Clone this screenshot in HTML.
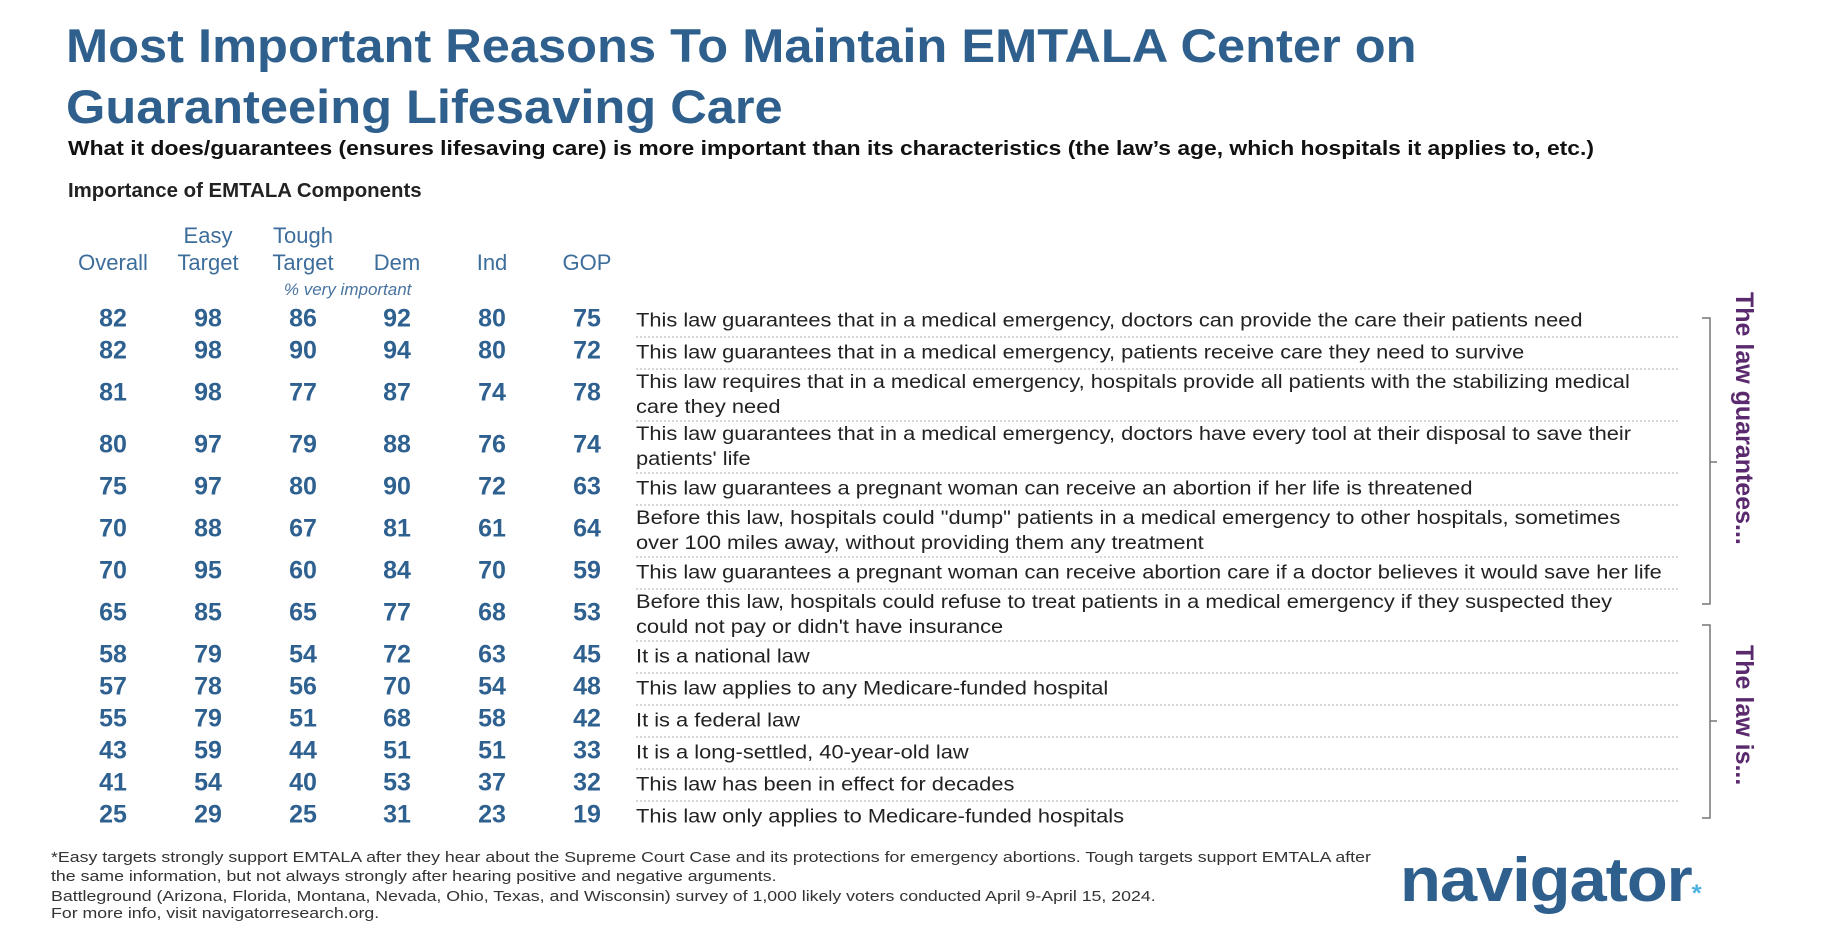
<!DOCTYPE html>
<html><head><meta charset="utf-8"><style>
body{margin:0;width:1824px;height:950px;background:#fff;position:relative;overflow:hidden;font-family:"Liberation Sans",sans-serif}
.a{position:absolute;white-space:nowrap}
.title{left:66px;font-size:47px;font-weight:bold;color:#2e5f8d;transform-origin:0 0;transform:scaleX(1.076)}
.hdr{font-size:22px;color:#3d6d9b;transform:translateX(-50%);text-align:center;line-height:27px}
.num{font-size:25px;font-weight:bold;color:#2e6090;transform:translate(-50%,-50%)}
.lbl{font-size:19.5px;color:#222;line-height:25px;transform-origin:0 50%;transform:translateY(-50%) scaleX(1.12)}
.dot{position:absolute;left:636px;width:1042px;border-top:2px dotted #d6d6d6;height:0}
.foot{left:51px;font-size:14.5px;color:#333;transform-origin:0 0;transform:scaleX(1.223)}
</style></head><body>
<div class="a title" style="top:18px">Most Important Reasons To Maintain EMTALA Center on</div>
<div class="a title" style="top:79px">Guaranteeing Lifesaving Care</div>
<div class="a" style="left:68px;top:137px;font-size:20.5px;font-weight:bold;color:#111;transform-origin:0 0;transform:scaleX(1.115)">What it does/guarantees (ensures lifesaving care) is more important than its characteristics (the law’s age, which hospitals it applies to, etc.)</div>
<div class="a" style="left:68px;top:180px;font-size:20px;font-weight:bold;color:#222;transform-origin:0 0;transform:scaleX(1.02)">Importance of EMTALA Components</div>
<div class="a" style="left:303px;top:280px;font-size:17px;font-style:italic;color:#4a74a0;transform:translateX(-15%)">% very important</div>
<div id="tbl"></div>
<svg class="a" style="left:0;top:0" width="1824" height="950">
<path d="M1702 318 H1710 V604 H1702 M1710 462 H1717" stroke="#777" stroke-width="1.5" fill="none"/>
<path d="M1702 625 H1710 V818 H1702 M1710 721 H1717" stroke="#777" stroke-width="1.5" fill="none"/>
<text transform="translate(1736,292) rotate(90)" font-family="Liberation Sans" font-size="25" font-weight="bold" fill="#5b2a6e">The law guarantees...</text>
<text transform="translate(1736,645) rotate(90)" font-family="Liberation Sans" font-size="25" font-weight="bold" fill="#5b2a6e">The law is...</text>
</svg>
<div class="a foot" style="top:850px">*Easy targets strongly support EMTALA after they hear about the Supreme Court Case and its protections for emergency abortions. Tough targets support EMTALA after</div>
<div class="a foot" style="top:869px">the same information, but not always strongly after hearing positive and negative arguments.</div>
<div class="a foot" style="top:889px">Battleground (Arizona, Florida, Montana, Nevada, Ohio, Texas, and Wisconsin) survey of 1,000 likely voters conducted April 9-April 15, 2024.</div>
<div class="a foot" style="top:906px">For more info, visit navigatorresearch.org.</div>
<div class="a" style="left:1400px;top:845px;font-size:62px;font-weight:bold;color:#2e5f8d;letter-spacing:-1px;transform-origin:0 0;transform:scaleX(1.08)">navigator<span style="color:#4fb3e0;font-size:24px">*</span></div>
<script>
const columns=["Overall","Easy Target","Tough Target","Dem","Ind","GOP"];
const overall=[82,82,81,80,75,70,70,65,58,57,55,43,41,25];
const easy=[98,98,98,97,97,88,95,85,79,78,79,59,54,29];
const tough=[86,90,77,79,80,67,60,65,54,56,51,44,40,25];
const dem=[92,94,87,88,90,81,84,77,72,70,68,51,53,31];
const ind=[80,80,74,76,72,61,70,68,63,54,58,51,37,23];
const gop=[75,72,78,74,63,64,59,53,45,48,42,33,32,19];
const labels=[
"This law guarantees that in a medical emergency, doctors can provide the care their patients need",
"This law guarantees that in a medical emergency, patients receive care they need to survive",
"This law requires that in a medical emergency, hospitals provide all patients with the stabilizing medical<br>care they need",
"This law guarantees that in a medical emergency, doctors have every tool at their disposal to save their<br>patients' life",
"This law guarantees a pregnant woman can receive an abortion if her life is threatened",
"Before this law, hospitals could \"dump\" patients in a medical emergency to other hospitals, sometimes<br>over 100 miles away, without providing them any treatment",
"This law guarantees a pregnant woman can receive abortion care if a doctor believes it would save her life",
"Before this law, hospitals could refuse to treat patients in a medical emergency if they suspected they<br>could not pay or didn't have insurance",
"It is a national law",
"This law applies to any Medicare-funded hospital",
"It is a federal law",
"It is a long-settled, 40-year-old law",
"This law has been in effect for decades",
"This law only applies to Medicare-funded hospitals"];
const series=[overall,easy,tough,dem,ind,gop];
const colX=[113,208,303,397,492,587];
const tbl=document.getElementById('tbl');
columns.forEach((c,i)=>{
  const d=document.createElement('div');
  d.className='a hdr';
  
  
  const parts=c.split(' ');
  d.innerHTML=parts.length>1?parts.join('<br>'):c;
  d.style.left=colX[i]+'px';
  d.style.top=(parts.length>1?222:249)+'px';
  tbl.appendChild(d);
});
let y=319;
labels.forEach((t,r)=>{
  const two=t.includes('<br>');
  series.forEach((s,i)=>{
    const n=document.createElement('div');
    n.className='a num';
    
    
    n.textContent=s[r];
    n.style.left=colX[i]+'px';n.style.top=y+'px';
    tbl.appendChild(n);
  });
  const l=document.createElement('div');
  l.className='a lbl';
  
  
  l.innerHTML=t;l.style.left='636px';l.style.top=(y+2)+'px';
  tbl.appendChild(l);
  const next=labels[r+1];
  if(next!==undefined){
    const ntwo=next.includes('<br>');
    const h1=two?24.5:14.5, h2=ntwo?24.5:14.5;
    const ln=y+h1+2;
    const dl=document.createElement('div');
    dl.className='dot';
    
    
    dl.style.top=ln+'px';
    tbl.appendChild(dl);
    y=ln+h2+1;
  }
});
</script>
</body></html>
